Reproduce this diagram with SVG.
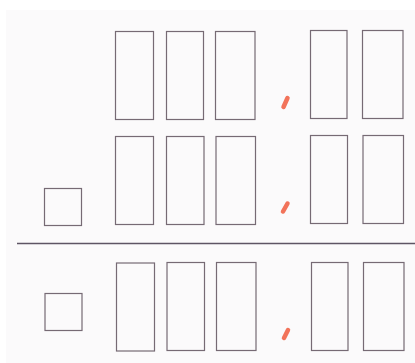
<svg xmlns="http://www.w3.org/2000/svg" width="415" height="363" viewBox="0 0 415 363">
<style>
.box{fill:none;stroke:#766a74;stroke-width:1.2}
.mark{stroke:#f2735a;stroke-width:4.5;stroke-linecap:round}
.rule{stroke:#5e5564;stroke-width:1.3}
</style>
<rect x="0" y="0" width="415" height="363" fill="#ffffff"/>
<rect x="6" y="10" width="409" height="353" fill="#fbfafb"/>
<g id="row1">
<g id="r1b1"><rect class="box" x="115.5" y="31.5" width="38" height="88"/></g>
<g id="r1b2"><rect class="box" x="166.5" y="31.5" width="37" height="88"/></g>
<g id="r1b3"><rect class="box" x="215.5" y="31.5" width="39.5" height="88"/></g>
<g id="r1m"><line class="mark" x1="283.5" y1="107" x2="287.5" y2="98"/></g>
<g id="r1b4"><rect class="box" x="310.5" y="30.5" width="36.5" height="88"/></g>
<g id="r1b5"><rect class="box" x="362.5" y="30.5" width="40.5" height="88"/></g>
</g>
<g id="row2">
<g id="r2sq"><rect class="box" x="44.5" y="188.5" width="37" height="37"/></g>
<g id="r2b1"><rect class="box" x="115.5" y="136.5" width="38" height="88"/></g>
<g id="r2b2"><rect class="box" x="166.5" y="136.5" width="37.5" height="88"/></g>
<g id="r2b3"><rect class="box" x="216" y="136.5" width="39.5" height="88"/></g>
<g id="r2m"><line class="mark" x1="283" y1="211.5" x2="287.5" y2="203.5"/></g>
<g id="r2b4"><rect class="box" x="310.5" y="135.5" width="37" height="88"/></g>
<g id="r2b5"><rect class="box" x="363" y="135.5" width="40.5" height="88"/></g>
</g>
<g id="connectors">
<line class="rule" x1="17" y1="243.5" x2="415" y2="243.5"/>
</g>
<g id="row3">
<g id="r3sq"><rect class="box" x="45" y="293.5" width="37" height="37"/></g>
<g id="r3b1"><rect class="box" x="116.5" y="263" width="38" height="88"/></g>
<g id="r3b2"><rect class="box" x="167" y="262.5" width="37.5" height="88"/></g>
<g id="r3b3"><rect class="box" x="216.5" y="262.5" width="39.5" height="88"/></g>
<g id="r3m"><line class="mark" x1="284" y1="338" x2="288" y2="330"/></g>
<g id="r3b4"><rect class="box" x="311.5" y="262.5" width="36.5" height="88"/></g>
<g id="r3b5"><rect class="box" x="363.5" y="262.5" width="40.5" height="88"/></g>
</g>
</svg>
